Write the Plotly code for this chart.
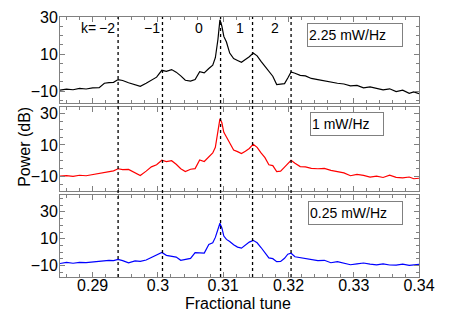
import plotly.graph_objects as go
from plotly.subplots import make_subplots

tune = [0.2850, 0.2860, 0.2870, 0.2880, 0.2890, 0.2900, 0.2910, 0.2918, 0.2925, 0.2932,
        0.2939, 0.2946, 0.2955, 0.2965, 0.2973, 0.2982, 0.2990, 0.2998, 0.3006, 0.3013,
        0.3021, 0.3028, 0.3035, 0.3042, 0.3050, 0.3057, 0.3064, 0.3071, 0.3078, 0.3084,
        0.3088, 0.3092, 0.3095, 0.3098, 0.3101, 0.3105, 0.3110, 0.3116, 0.3122, 0.3128,
        0.3134, 0.3140, 0.3146, 0.3152, 0.3158, 0.3164, 0.3170, 0.3176, 0.3182, 0.3188,
        0.3194, 0.3199, 0.3204, 0.3210, 0.3218, 0.3226, 0.3235, 0.3245, 0.3255, 0.3265,
        0.3275, 0.3285, 0.3295, 0.3305, 0.3315, 0.3325, 0.3335, 0.3345, 0.3355, 0.3365,
        0.3375, 0.3385, 0.3392, 0.3400]

power_225 = [-9.5, -9.0, -9.3, -8.6, -8.9, -8.3, -8.2, -5.8, -5.5, -5.3,
             -3.8, -4.3, -5.5, -6.8, -7.5, -5.8, -4.3, -2.5, 1.2, 0.6,
             1.6, 0.2, -1.8, -4.2, -4.6, -3.8, 0.5, -0.2, 2.2, 4.0,
             8.0, 18.0, 28.5, 25.0, 19.5, 16.5, 10.5, 7.5, 6.5, 5.5,
             7.0, 8.5, 10.5, 9.0, 6.0, 3.5, 1.0, -2.0, -6.5, -6.2,
             -6.0, -3.0, 0.3, -0.4, -1.5, -1.8, -3.2, -3.8, -4.6, -5.0,
             -5.8, -6.2, -7.2, -7.0, -8.3, -7.8, -8.6, -9.4, -8.8, -10.3,
             -9.5, -11.2, -10.5, -11.4]

power_1 = [-9.6, -9.3, -9.8, -9.1, -9.4, -8.6, -8.2, -7.4, -7.0, -6.3,
           -5.0, -5.6, -5.4, -7.8, -9.3, -6.5, -3.8, -2.5, 0.4, -0.5,
           0.1, -2.2, -5.0, -6.8, -5.3, -4.9, 0.6, -0.4, 2.8, 5.0,
           8.5, 18.0, 26.5, 24.0, 18.0, 15.0, 11.0, 6.8, 5.8, 4.6,
           6.0, 7.8, 10.5, 8.5, 5.0, 2.0, -2.5, -3.0, -6.8, -6.5,
           -4.0, -1.5, 0.3, -1.5, -3.6, -3.8, -4.8, -5.0, -4.8, -6.0,
           -6.8, -7.6, -9.4, -8.6, -9.2, -10.3, -9.6, -10.5, -9.0, -10.4,
           -10.8, -10.2, -11.3, -11.0]

power_025 = [-8.4, -7.6, -8.2, -7.5, -7.8, -7.3, -6.4, -6.5, -6.0, -6.3,
             -5.4, -6.2, -7.9, -6.5, -6.8, -5.8, -4.0, -2.2, -0.2, -2.3,
             -2.8, -3.6, -6.0, -5.5, -4.6, -0.3, -0.3, -0.6, 5.8, 7.0,
             11.0, 17.5, 21.5, 18.0, 12.0, 9.5, 8.0, 5.5, 3.8, 3.0,
             5.5, 7.5, 8.8, 7.0, 3.5, -0.5, -4.2, -4.8, -7.0, -6.8,
             -4.5, -1.5, -0.8, -3.4, -4.0, -5.0, -5.5, -6.3, -6.0, -7.8,
             -7.0, -8.4, -9.3, -8.6, -8.0, -8.8, -9.4, -8.6, -9.5, -9.6,
             -8.9, -9.7, -9.2, -9.0]

sideband_tunes = [0.2939, 0.3007, 0.3096, 0.3145, 0.3204]
k_labels = ["k=", "\u22122", "\u22121", "0", "1", "2"]
k_label_tunes = [0.2893, 0.2922, 0.2991, 0.3063, 0.3125, 0.3180]
drive_labels = ["2.25 mW/Hz", "1 mW/Hz", "0.25 mW/Hz"]

gray = "#808080"
font = "Liberation Sans, Arial, Helvetica, sans-serif"

fig = make_subplots(rows=3, cols=1, shared_xaxes=True, vertical_spacing=0.02)

for row, (vals, color) in enumerate([(power_225, "black"), (power_1, "red"),
                                     (power_025, "blue")], start=1):
    fig.add_trace(go.Scatter(x=tune, y=vals, mode="lines",
                             line=dict(color=color, width=1.2)), row=row, col=1)

domains = [[0.669, 1.0], [0.331, 0.654], [0.0, 0.315]]
yranges = [[-16.5, 30], [-19, 34], [-18.4, 42.4]]
for i in range(3):
    fig.update_yaxes(domain=domains[i], range=yranges[i], tickvals=[-10, 10, 30],
                     row=i + 1, col=1)
    fig.update_xaxes(showticklabels=(i == 2), row=i + 1, col=1)

fig.update_xaxes(range=[0.285, 0.34], tickvals=[0.29, 0.3, 0.31, 0.32, 0.33, 0.34],
                 ticktext=["0.29", "0.3", "0.31", "0.32", "0.33", "0.34"],
                 showline=True, linecolor=gray, linewidth=1, mirror="ticks",
                 ticks="inside", ticklen=5, tickcolor=gray, showgrid=False,
                 zeroline=False, automargin=False, ticklabelstandoff=-6,
                 tickfont=dict(size=16, color="black"),
                 minor=dict(dtick=0.002, ticks="inside", ticklen=3, tickcolor=gray))
fig.update_yaxes(showline=True, linecolor=gray, linewidth=1, mirror="ticks",
                 ticks="inside", ticklen=5, tickcolor=gray, showgrid=False,
                 zeroline=False, automargin=False, ticklabelstandoff=-2,
                 tickfont=dict(size=16, color="black"),
                 minor=dict(dtick=5, ticks="inside", ticklen=3, tickcolor=gray))

for t in sideband_tunes:
    fig.add_shape(type="line", xref="x", yref="paper", x0=t, x1=t, y0=0, y1=1,
                  line=dict(color="black", width=1.3, dash="3px,3px"))

for lab, t in zip(k_labels, k_label_tunes):
    fig.add_annotation(text=lab, x=t, y=24, xref="x", yref="y", showarrow=False,
                       font=dict(size=14, color="black"))

box_x = [0.688, 0.696, 0.691]
box_y = [0.977, 0.635, 0.292]
box_w = [92, 70, 91]
for lab, bx, by, bw in zip(drive_labels, box_x, box_y, box_w):
    fig.add_annotation(text=lab, x=bx, y=by, xref="paper", yref="paper",
                       xanchor="left", yanchor="top", showarrow=False,
                       align="left", width=bw, height=20, borderpad=1,
                       bordercolor=gray, borderwidth=1, bgcolor="white",
                       font=dict(size=14, color="black"))

fig.add_annotation(text="Power (dB)", x=-0.13, y=0.5, xref="paper", yref="paper",
                   textangle=-90, showarrow=False, font=dict(size=16, color="black"))
fig.add_annotation(text="Fractional tune", x=0.496, y=-0.1, xref="paper",
                   yref="paper", yanchor="middle", showarrow=False,
                   font=dict(size=16, color="black"))

fig.update_layout(width=463, height=321, margin=dict(l=60, r=44, t=17, b=44),
                  showlegend=False, plot_bgcolor="white", paper_bgcolor="white",
                  font=dict(family=font, color="black"))

fig.write_html("out.html", config={"displayModeBar": False},
               post_script="document.body.style.margin='0';")
